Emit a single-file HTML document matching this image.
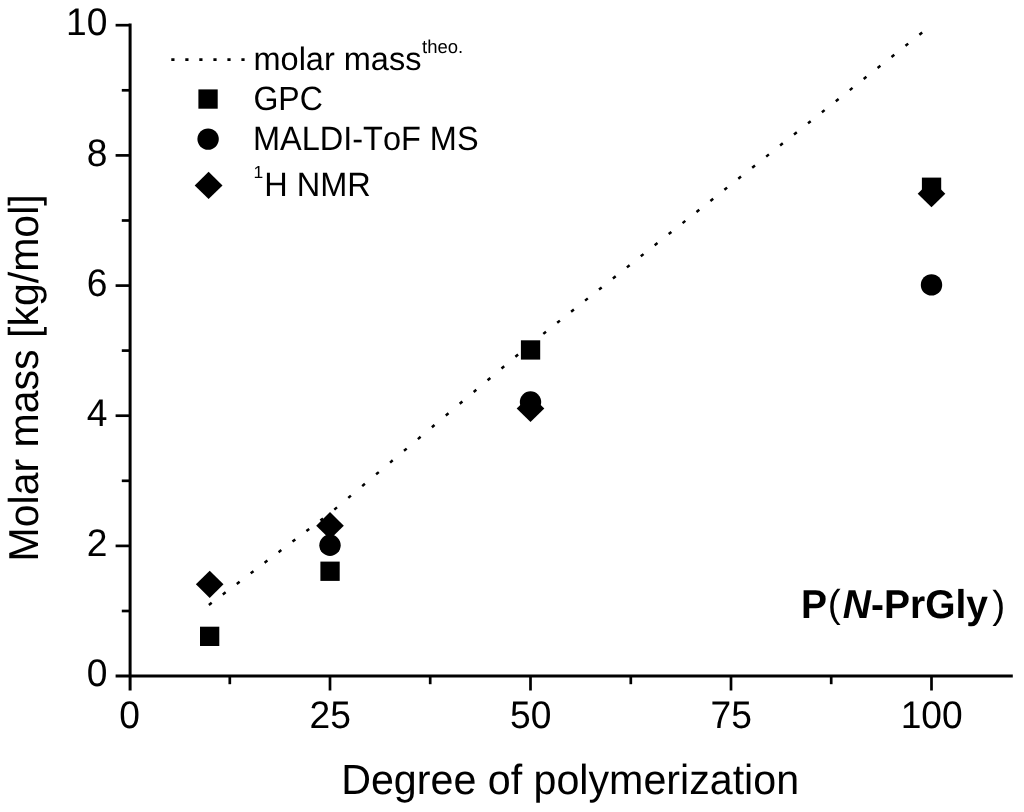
<!DOCTYPE html>
<html><head><meta charset="utf-8"><title>chart</title>
<style>html,body{margin:0;padding:0;background:#fff;}body{width:1024px;height:812px;position:relative;overflow:hidden;font-family:"Liberation Sans",sans-serif;}</style>
</head><body>
<svg width="1024" height="812" viewBox="0 0 1024 812" style="position:absolute;left:0;top:0;will-change:transform;filter:blur(0.5px)">
<rect width="1024" height="812" fill="#fff"/>
<g stroke="#000" stroke-width="3" fill="none" stroke-linecap="butt">
<path d="M130.1 23.6V690.5"/>
<path d="M115.6 676.0H1012.8"/>
</g>
<g stroke="#000" stroke-width="2.7" fill="none">
<path d="M115.6 545.9H130"/>
<path d="M115.6 415.7H130"/>
<path d="M115.6 285.6H130"/>
<path d="M115.6 155.4H130"/>
<path d="M115.6 25.2H130"/>
<path d="M121.8 611.0H130"/>
<path d="M121.8 480.8H130"/>
<path d="M121.8 350.6H130"/>
<path d="M121.8 220.5H130"/>
<path d="M121.8 90.3H130"/>
<path d="M330.0 676.0V690.5"/>
<path d="M530.5 676.0V690.5"/>
<path d="M731.0 676.0V690.5"/>
<path d="M931.5 676.0V690.5"/>
<path d="M229.8 676.0V684.2"/>
<path d="M430.2 676.0V684.2"/>
<path d="M630.8 676.0V684.2"/>
<path d="M831.2 676.0V684.2"/>
</g>
<path d="M208.9 605.0L211.7 602.8M222.8 594.4L225.6 592.3M236.8 583.9L239.6 581.7M250.7 573.3L253.5 571.2M264.6 562.7L267.4 560.6M278.6 552.2L281.3 550.1M292.5 541.6L295.3 539.5M306.4 531.1L309.2 529.0M320.4 520.5L323.1 518.4M334.3 509.6L337.0 507.4M348.3 497.9L350.9 495.6M362.2 486.1L364.9 483.8M376.1 474.3L378.8 472.1M390.1 462.6L392.7 460.3M404.0 450.8L406.7 448.6M417.9 439.1L420.6 436.8M431.9 427.3L434.5 425.0M445.8 415.5L448.5 413.3M459.7 403.8L462.4 401.5M473.7 392.0L476.3 389.8M487.6 380.3L490.3 378.0M501.5 368.5L504.2 366.3M515.4 356.8L518.1 354.5M529.4 345.0L532.1 342.7M543.3 333.9L546.0 331.7M557.2 322.8L559.9 320.6M571.1 311.7L573.9 309.5M585.1 300.6L587.8 298.4M599.0 289.5L601.7 287.4M612.9 278.5L615.7 276.3M626.9 267.4L629.6 265.2M640.8 256.3L643.5 254.1M654.7 245.2L657.5 243.0M668.7 234.1L671.4 232.0M682.6 223.1L685.3 220.9M696.5 212.0L699.3 209.8M710.4 200.9L713.2 198.7M724.4 189.8L727.1 187.6M738.3 178.7L741.0 176.6M752.2 167.7L755.0 165.5M766.2 156.6L768.9 154.4M780.1 145.5L782.8 143.3M794.0 134.4L796.8 132.2M808.0 123.3L810.7 121.2M821.9 112.3L824.6 110.1M835.8 101.2L838.6 99.0M849.8 90.1L852.5 87.9M863.7 79.0L866.4 76.8M877.6 67.9L880.4 65.8M891.5 56.9L894.3 54.7M905.5 45.8L908.2 43.6M919.4 34.7L922.2 32.5" stroke="#000" stroke-width="2.5" fill="none"/>
<path d="M171.3 59.6h3.2M185.3 59.6h3.2M199.3 59.6h3.2M213.4 59.6h3.2M227.4 59.6h3.2M241.4 59.6h3.2" stroke="#000" stroke-width="2.6" fill="none"/>
<g fill="#000">
<rect x="200.0" y="626.7" width="19.3" height="19.3"/>
<rect x="320.4" y="561.6" width="19.3" height="19.3"/>
<rect x="520.9" y="340.3" width="19.3" height="19.3"/>
<rect x="921.9" y="177.6" width="19.3" height="19.3"/>
<circle cx="330.0" cy="545.2" r="10.7"/>
<circle cx="530.5" cy="402.0" r="10.7"/>
<circle cx="931.5" cy="284.9" r="10.7"/>
<path d="M195.9 584.3L209.7 570.7L223.5 584.3L209.7 597.9Z"/>
<path d="M316.2 525.7L330.0 512.1L343.8 525.7L330.0 539.3Z"/>
<path d="M516.7 408.5L530.5 394.9L544.3 408.5L530.5 422.1Z"/>
<path d="M917.7 193.7L931.5 180.1L945.3 193.7L931.5 207.3Z"/>
<rect x="198.4" y="89.4" width="19.3" height="19.3"/>
<circle cx="208.1" cy="139.1" r="10.7"/>
<path d="M194.7 185.4L208.6 171.7L222.5 185.4L208.6 199.1Z"/>
</g>
<g font-family="Liberation Sans, sans-serif" fill="#000" style="font-kerning:none;text-rendering:geometricPrecision">
<g font-size="37.2" text-anchor="end">
<text transform="translate(107.4 686.2) scale(1 1.035)">0</text>
<text transform="translate(107.4 556.0) scale(1 1.035)">2</text>
<text transform="translate(107.4 425.8) scale(1 1.035)">4</text>
<text transform="translate(107.4 295.7) scale(1 1.035)">6</text>
<text transform="translate(107.4 165.5) scale(1 1.035)">8</text>
<text transform="translate(107.4 35.3) scale(1 1.035)">10</text>
</g>
<g font-size="37.2" text-anchor="middle">
<text transform="translate(129.7 728) scale(1 1.035)">0</text>
<text transform="translate(330.2 728) scale(1 1.035)">25</text>
<text transform="translate(530.7 728) scale(1 1.035)">50</text>
<text transform="translate(731.2 728) scale(1 1.035)">75</text>
<text transform="translate(931.7 728) scale(1 1.035)">100</text>
</g>
<text font-size="41.2" transform="translate(341.2 793.8) scale(1 1.02)">Degree of polymerization</text>
<text font-size="41.05" transform="translate(38.4 561.5) rotate(-90) scale(1 1.02)">Molar mass [kg/mol]</text>
<g font-size="32.5">
<text x="253.5" y="70.2">molar mass</text>
<text x="422" y="52.7" font-size="18.5">theo.</text>
<text transform="translate(253.4 109.5) scale(1 1.05)" font-size="32">GPC</text>
<text transform="translate(252.9 149.7) scale(1 1.035)">MALDI-ToF MS</text>
<text x="253.5" y="178" font-size="17.5">1</text>
<text transform="translate(264.2 195.6) scale(1 1.035)">H NMR</text>
</g>
<g font-size="39">
<text transform="translate(801 617.8) scale(1 1.03)" font-weight="bold">P</text>
<text x="827.8" y="617.4">(</text>
<text transform="translate(842.8 617.8) scale(1 1.03)" font-weight="bold"><tspan font-style="italic">N</tspan>-PrGly</text>
<text x="992.2" y="617.7">)</text>
</g>
</g>
</svg>
</body></html>
